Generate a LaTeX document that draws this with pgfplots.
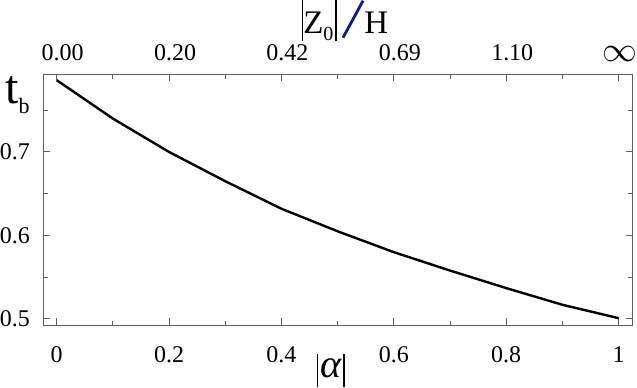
\documentclass[border=0pt]{standalone}
\usepackage{fontspec}
\setmainfont{Liberation Serif}
\usepackage{graphicx}
\usepackage{pgfplots}
\pgfplotsset{compat=1.18}

\definecolor{axisgray}{RGB}{95,95,95}
\definecolor{slashblue}{RGB}{20,20,150}

\pgfplotsset{
  tbframe/.style={
    scale only axis, width=588bp, height=250bp,
    xmin=-0.024, xmax=1.025, ymin=0.4927, ymax=0.7928,
    tick align=inside,
    major tick length=7bp, minor tick length=4.5bp,
    axis line style={axisgray, line width=1.1bp},
    every tick/.style={axisgray, line width=1bp},
    tick label style={font=\fontsize{24}{28}\selectfont, inner sep=0pt},
  },
}

\begin{document}
\begin{tikzpicture}
% main axis: |alpha| below, t_b left
\begin{axis}[
  tbframe, clip=false,
  xtick={0,0.2,0.4,0.6,0.8,1},
  xticklabels={0,0.2,0.4,0.6,0.8,1},
  minor x tick num=1,
  ytick={0.5,0.6,0.7},
  yticklabels={0.5,0.6,0.7},
  minor ytick={0.55,0.65,0.75},
  xtick pos=lower, ytick pos=both,
  xticklabel style={yshift=-21bp},
  yticklabel style={xshift=-13bp},
]
\addplot[black, line width=2.4bp] coordinates {
  (0.0,0.786) (0.1,0.740) (0.2,0.700) (0.3,0.665) (0.4,0.632)
  (0.5,0.605) (0.6,0.580) (0.7,0.558) (0.8,0.537) (0.9,0.517) (1.0,0.501)
};
% axis titles
\node[anchor=base west, inner sep=0pt, xshift=-38bp, yshift=-29bp]
  at (rel axis cs:0,1)
  {\fontsize{48}{48}\selectfont t\raisebox{-10bp}{\fontsize{22}{22}\selectfont b}};
\node[anchor=base west, inner sep=0pt, xshift=273bp, yshift=-52bp]
  at (rel axis cs:0,0)
  {\rule[-10bp]{1.3bp}{33bp}\hspace{2bp}{\fontsize{40}{40}\selectfont\itshape α}\hspace{2bp}\rule[-10bp]{1.3bp}{33bp}};
\node[anchor=base west, inner sep=0pt, xshift=258bp, yshift=41bp]
  at (rel axis cs:0,1)
  {\fontsize{33}{36}\selectfont\rule[-8bp]{1.3bp}{41bp}Z\raisebox{-7bp}{\fontsize{20}{20}\selectfont 0}\hspace{2bp}\rule[-8bp]{1.3bp}{41bp}\hspace{5bp}\raisebox{-5bp}{\rotatebox{61.6}{\textcolor{slashblue}{\rule{42bp}{2.8bp}}}}H};
\end{axis}
% top axis: |Z0|/H scale
\begin{axis}[
  tbframe,
  axis line style={draw=none},
  xtick={0,0.2,0.4,0.6,0.8,1},
  xticklabels={0.00,0.20,0.42,0.69,1.10,{\hspace*{-10bp}\scalebox{1.4}{$\infty$}}},
  minor x tick num=1,
  xtick pos=upper, ytick=\empty,
  xticklabel style={yshift=13bp, xshift=6bp},
]
\addplot[draw=none] coordinates {(0,0.6) (1,0.6)};
\end{axis}
\end{tikzpicture}
\end{document}
